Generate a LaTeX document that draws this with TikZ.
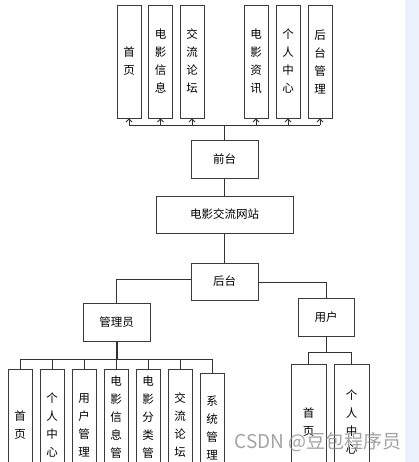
\documentclass[tikz,border=0pt]{standalone}
\usepackage{fontspec}
\setmainfont{Noto Sans CJK SC}
\usetikzlibrary{arrows.meta}
\definecolor{linec}{HTML}{333333}
\definecolor{boxc}{HTML}{3A3A3A}
\definecolor{strip}{HTML}{EDF1F9}
\tikzset{
  bx/.style={draw=boxc, line width=0.9pt, inner sep=0pt, align=center,
    font=\fontsize{11.5pt}{18pt}\selectfont},
  vbox/.style={bx, minimum width=24pt},
  hbox/.style={bx, minimum height=38pt},
  ln/.style={draw=linec, line width=0.9pt},
  up/.style={ln, -{Straight Barb[length=3pt,width=6pt]}}
}
\begin{document}
\begin{tikzpicture}[x=1pt,y=-1pt]
\useasboundingbox (0,0) rectangle (419,462);
\clip (0,0) rectangle (419,462);
\fill[white] (0,0) rectangle (419,462);
\fill[strip] (405,0) rectangle (419,462);
% top boxes
\node[vbox, minimum height=113pt] (t1) at (129,61.5) {首\\页};
\node[vbox, minimum height=113pt] (t2) at (160.5,61.5) {电\\影\\信\\息};
\node[vbox, minimum height=113pt] (t3) at (192,61.5) {交\\流\\论\\坛};
\node[vbox, minimum height=113pt] (t4) at (256,61.5) {电\\影\\资\\讯};
\node[vbox, minimum height=113pt] (t5) at (288,61.5) {个\\人\\中\\心};
\node[vbox, minimum height=113pt] (t6) at (320,61.5) {后\\台\\管\\理};
% middle
\node[hbox, minimum width=67pt] (qt) at (224.5,159) {前台};
\node[hbox, minimum width=137pt, minimum height=37pt] (wz) at (224.5,214.5) {电影交流网站};
\node[hbox, minimum width=67pt, minimum height=37pt] (ht) at (224.5,281.5) {后台};
\node[hbox, minimum width=67pt] (gl) at (116.5,322) {管理员};
\node[hbox, minimum width=56pt] (yh) at (326,317) {用户};
% admin boxes
\node[vbox, minimum height=113pt] (a1) at (20,425.5) {首\\页};
\node[vbox, minimum height=113pt] (a2) at (52,425.5) {个\\人\\中\\心};
\node[vbox, minimum height=113pt] (a3) at (84,425.5) {用\\户\\管\\理};
\node[vbox, minimum height=113pt] (a4) at (116,425.5) {电\\影\\信\\息\\管\\理};
\node[vbox, minimum height=113pt] (a5) at (148,425.5) {电\\影\\分\\类\\管\\理};
\node[vbox, minimum height=113pt] (a6) at (180,425.5) {交\\流\\论\\坛};
\node[vbox, minimum height=109pt] (a7) at (212,427.5) {系\\统\\管\\理};
% user boxes
\node[vbox, minimum width=35pt, minimum height=116pt] (u1) at (308.5,422) {首\\页};
\node[vbox, minimum width=35pt, minimum height=116pt] (u2) at (351.5,422) {个\\人\\中\\心};
% top connectors
\coordinate (tb) at (224.5,125);
\draw[ln] (qt.north) -- (tb);
\draw[ln] (t1.south |- tb) -- (t6.south |- tb);
\foreach \n in {t1,t2,t3,t4,t5,t6}{\draw[up] (\n.south |- tb) -- (\n.south);}
% middle connectors
\draw[ln] (qt) -- (wz);
\draw[ln] (wz) -- (ht);
\coordinate (hl) at (gl.north |- 0,279);
\coordinate (hr) at (yh.north |- 0,282);
\draw[ln] (ht.west |- hl) -- (hl) -- (gl.north);
\draw[ln] (ht.east |- hr) -- (hr) -- (yh.north);
% admin bus
\coordinate (ab) at (116.5,359);
\draw[ln, line width=2pt] (gl.south) -- (ab);
\draw[ln] (a1.north |- ab) -- (a7.north |- ab);
\foreach \n in {a1,a2,a3,a4,a5,a6,a7}{\draw[ln] (\n.north |- ab) -- (\n.north);}
% user bus
\coordinate (ub) at (326,352);
\draw[ln] (yh.south) -- (ub);
\draw[ln] (u1.north |- ub) -- (u2.north |- ub);
\foreach \n in {u1,u2}{\draw[ln] (\n.north |- ub) -- (\n.north);}
% watermark
\node[text=black!45, opacity=0.8, font=\fontsize{19pt}{20pt}\selectfont, inner sep=0] (wm) at (318,442) {CSDN @豆包程序员};
\end{tikzpicture}
\end{document}
